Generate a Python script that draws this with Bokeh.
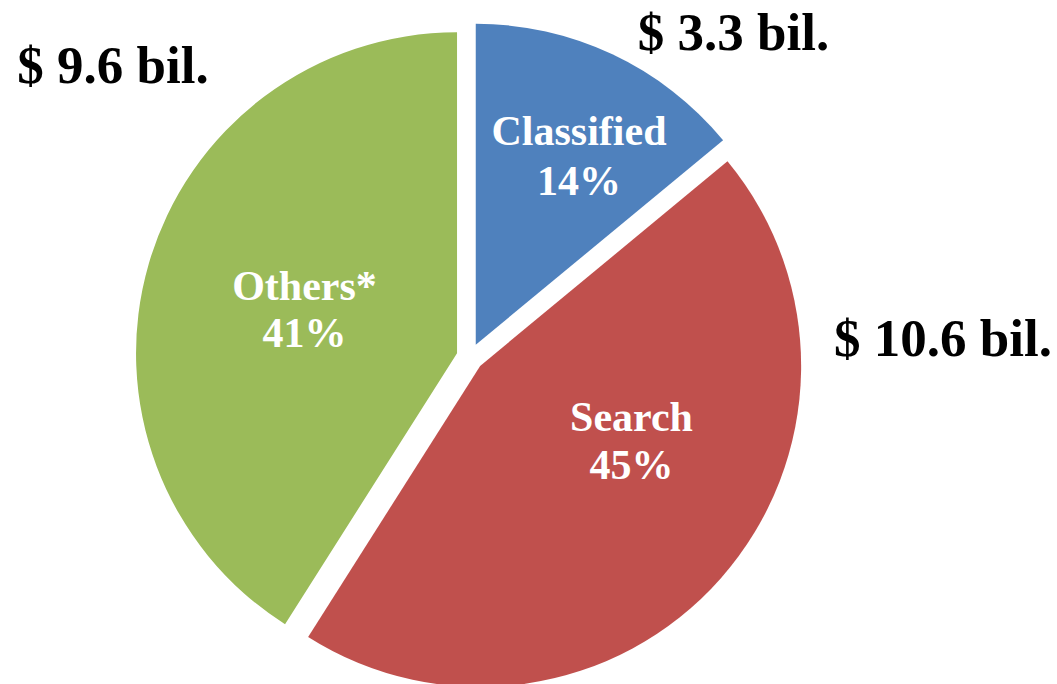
import math
from bokeh.plotting import figure
from bokeh.models import Range1d, ColumnDataSource
from bokeh.core.properties import value
from bokeh.embed import file_html
from bokeh.resources import INLINE

# ---- data ----
categories = ["Classified", "Search", "Others*"]
shares = [14, 45, 41]                       # percent
amounts = ["$ 3.3 bil.", "$ 10.6 bil.", "$ 9.6 bil."]
colors = ["#4F81BD", "#C0504D", "#9BBB59"]

# ---- layout (pixel space; data y = 684 - screen y) ----
W, H = 1057, 684
CX, CY = 469.5, 684 - 356.5
R = 321
EXPLODE = 13.5
FONT = value("Liberation Serif")
TY = 16  # text vertical correction

p = figure(width=W, height=H, output_backend="svg", toolbar_location=None,
           x_range=Range1d(0, W), y_range=Range1d(684 - H, 684),
           min_border=0)
p.axis.visible = False
p.grid.visible = False
p.outline_line_color = None
p.background_fill_color = "white"
p.border_fill_color = "white"

total = float(sum(shares))
xs, ys, starts, ends = [], [], [], []
cum = 0.0
for s in shares:
    a0 = math.pi / 2 - 2 * math.pi * cum / total
    a1 = math.pi / 2 - 2 * math.pi * (cum + s) / total
    mid = (a0 + a1) / 2
    xs.append(CX + EXPLODE * math.cos(mid))
    ys.append(CY + EXPLODE * math.sin(mid))
    starts.append(a0)
    ends.append(a1)
    cum += s

src = ColumnDataSource(dict(x=xs, y=ys, start=starts, end=ends, color=colors,
                            cat=categories))
p.wedge(x="x", y="y", radius=R, start_angle="start", end_angle="end",
        direction="clock", fill_color="color", line_color=None, source=src)

# inside labels: (center x, baseline line1, baseline line2) in screen px
inside_pos = [(578.5, 146.5, 196.5), (631, 432.5, 480), (304, 301, 348)]
for cat, s, (lx, b1, b2) in zip(categories, shares, inside_pos):
    p.text(x=[lx], y=[684 - b1 + TY], text=[cat], text_color="white",
           text_font=FONT, text_font_style="bold", text_font_size="42px",
           text_align="center", text_baseline="alphabetic")
    p.text(x=[lx], y=[684 - b2 + TY], text=[f"{s}%"], text_color="white",
           text_font=FONT, text_font_style="bold", text_font_size="42px",
           text_align="center", text_baseline="alphabetic")

# outside amount labels
outside_pos = [(733, 47), (942.5, 353), (112.5, 80)]
for amt, (lx, b) in zip(amounts, outside_pos):
    p.text(x=[lx], y=[684 - b + TY], text=[amt], text_color="black",
           text_font=FONT, text_font_style="bold", text_font_size="53px",
           text_align="center", text_baseline="alphabetic")

open("out.html", "w").write(file_html(p, INLINE))
